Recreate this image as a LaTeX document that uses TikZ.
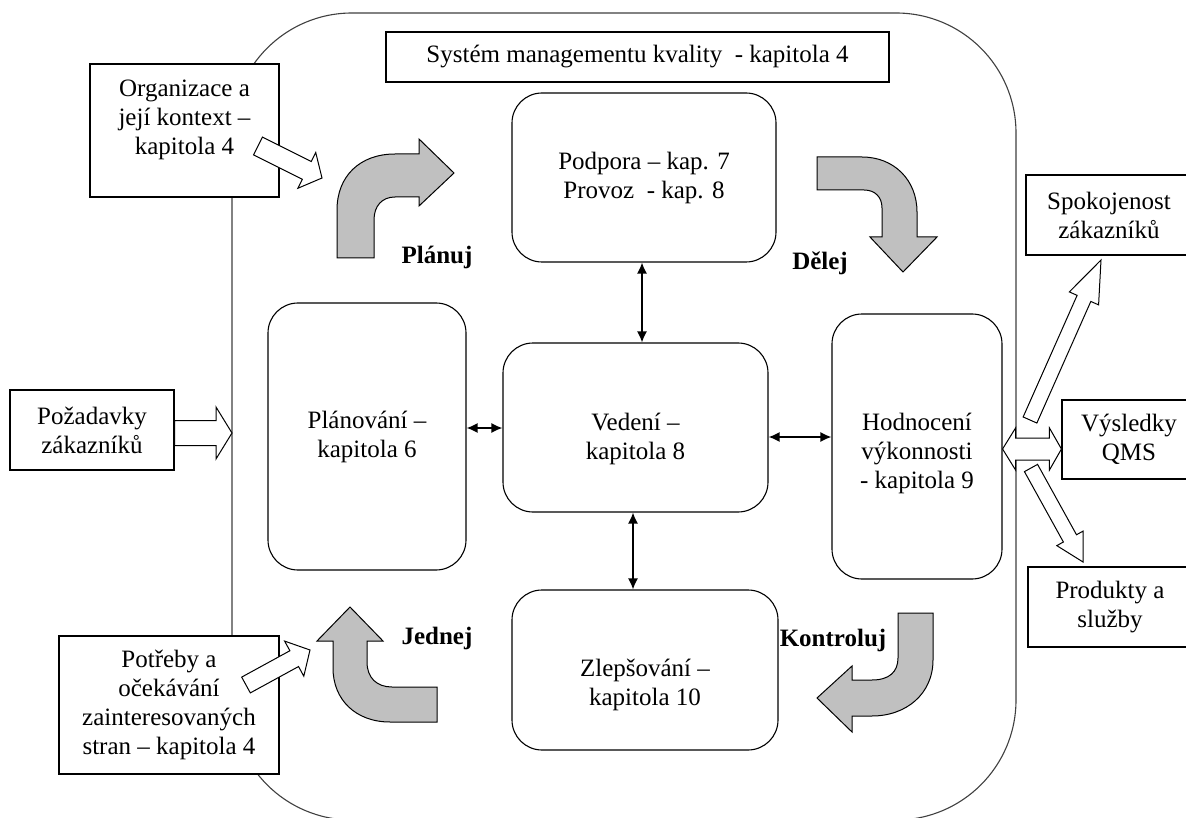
\documentclass[tikz,border=0pt]{standalone}
\usepackage{fontspec}
\setmainfont{Liberation Serif}
\usetikzlibrary{calc,arrows.meta}
\definecolor{arrowgray}{RGB}{192,192,192}
% hollow block arrow: #1 tail, #2 tip, #3 shaft half width, #4 head half width, #5 head length
\newcommand\hollowarrow[5]{%
  \draw[hollow] let \p1=($(#2)-(#1)$), \n1={atan2(\y1,\x1)}, \n2={veclen(\x1,\y1)} in
    [shift={(#1)},rotate=\n1] (0,#3) -- ({\n2-#5},#3) -- ({\n2-#5},#4) -- (\n2,0)
    -- ({\n2-#5},-#4) -- ({\n2-#5},-#3) -- (0,-#3) -- cycle;}
\begin{document}
\begin{tikzpicture}[x=1pt,y=-1pt,
  base/.style={font=\fontsize{25}{29}\selectfont},
  box/.style={base, draw, line width=1.1pt, fill=white, inner sep=0pt, align=center},
  rbox/.style={box, rounded corners=30pt},
  txt/.style={base, align=center, inner sep=0pt},
  lbl/.style={base, font=\fontsize{25}{29}\selectfont\bfseries, inner sep=0pt},
  frame/.style={draw=black!75, line width=1.1pt, rounded corners=120pt},
  hollow/.style={draw, line width=1pt, fill=white, line join=miter},
  bendarrow/.style={draw, line width=1pt, fill=arrowgray, line join=miter},
  link/.style={line width=1.5pt, {Latex[length=11pt,width=10pt]}-{Latex[length=11pt,width=10pt]}}
]
\clip (0,0) rectangle (1186,818);
\fill[white] (0,0) rectangle (1186,818);

% outer frame of the quality management system
\draw[frame] (232,13) rectangle (1016,820);

% title
\node[box, minimum width=503pt, minimum height=50pt] (sys) at (637.5,57)
  {Systém managementu kvality~ - kapitola 4};

% left input boxes
\node[box, minimum width=189pt, minimum height=133pt] (org) at (184.5,130.5) {};
\node[txt] (orgT) at (184.5,120) {Organizace a\\její kontext –\\kapitola 4};
\node[box, minimum width=164pt, minimum height=80pt] (poz) at (92,430)
  {Požadavky\\zákazníků};
\node[box, minimum width=220pt, minimum height=138pt] (pot) at (169,705)
  {Potřeby a\\očekávání\\zainteresovaných\\stran – kapitola 4};

% central rounded boxes
\node[rbox, minimum width=264pt, minimum height=169pt] (pod) at (644,177.5)
  {Podpora – kap. 7\\Provoz~ - kap. 8};
\node[rbox, minimum width=198pt, minimum height=267pt] (pla) at (367,436.5)
  {Plánování –\\kapitola 6};
\node[rbox, minimum width=265pt, minimum height=169pt] (ved) at (635.5,427.5) {};
\node[txt] (vedT) at (635.5,439) {Vedení –\\kapitola 8};
\node[rbox, minimum width=170pt, minimum height=265pt] (hod) at (917,446.5) {};
\node[txt] (hodT) at (917,453) {Hodnocení\\výkonnosti\\- kapitola 9};
\node[rbox, minimum width=266pt, minimum height=160pt] (zle) at (645,670) {};
\node[txt] (zleT) at (645,685) {Zlepšování –\\kapitola 10};

% right output boxes
\node[box, minimum width=166pt, minimum height=80pt] (spo) at (1109,215)
  {Spokojenost\\zákazníků};
\node[box, minimum width=134pt, minimum height=79pt] (vys) at (1129,439.5)
  {Výsledky\\QMS};
\node[box, minimum width=164pt, minimum height=80pt] (pro) at (1110,607)
  {Produkty a\\služby};

% PDCA labels
\node[lbl] (lPlan) at (437,257) {Plánuj};
\node[lbl] (lDo) at (820,263) {Dělej};
\node[lbl] (lAct) at (437,638) {Jednej};
\node[lbl] (lCheck) at (833,640) {Kontroluj};

% gray bent PDCA arrows
\draw[bendarrow] (337,258) -- (337,210) .. controls (337,176) and (360,154) .. (395,154)
  -- (419,154) -- (419,139) -- (454,173) -- (419,206) -- (419,197) -- (395,197)
  .. controls (382,197) and (374,206) .. (374,220) -- (374,258) -- cycle;
\draw[bendarrow] (817,157) -- (862,157) .. controls (894,157) and (917,180) .. (917,212)
  -- (917,237) -- (937,237) -- (903,272) -- (870,237) -- (882,237) -- (882,208)
  .. controls (882,197) and (875,190) .. (864,190) -- (817,190) -- cycle;
\draw[bendarrow] (898,613) -- (933,613) -- (933,660) .. controls (933,694) and (906,716) .. (872,716)
  -- (852,716) -- (852,732) -- (817,698) -- (852,666) -- (852,680) -- (872,680)
  .. controls (889,680) and (898,672) .. (898,658) -- cycle;
\draw[bendarrow] (437,687) -- (392,687) .. controls (377,687) and (367,678) .. (367,662)
  -- (367,641) -- (383,641) -- (350,607) -- (317,641) -- (333,641) -- (333,668)
  .. controls (333,700) and (356,722) .. (390,722) -- (437,722) -- cycle;

% links between the central boxes
\draw[link] ([xshift=-2pt]pod.south) -- ([xshift=-2pt]pod.south |- ved.north);
\draw[link] ([xshift=-2.5pt]ved.south) -- ([xshift=-2.5pt]ved.south |- zle.north);
\draw[link] ([yshift=8.5pt]pla.east) -- ([yshift=8.5pt]pla.east -| ved.west);
\draw[link] ([yshift=-9.5pt]ved.east) -- ([yshift=-9.5pt]ved.east -| hod.west);

% hollow input / output arrows
\coordinate (orgA) at (258,146);
\coordinate (planIn) at (322,178);
\hollowarrow{orgA}{planIn}{10}{20}{17}
\coordinate (pozA) at ([yshift=-3pt]poz.east);
\coordinate (frameIn) at (232,433);
\hollowarrow{pozA}{frameIn}{12.5}{26}{16}
\coordinate (potA) at (246,685);
\coordinate (actIn) at (310,650);
\hollowarrow{potA}{actIn}{9}{20}{18}
\coordinate (spoA) at (1030,420);
\coordinate (spoIn) at (1101,260);
\hollowarrow{spoA}{spoIn}{7.5}{16}{42}
\coordinate (proA) at (1031,468);
\coordinate (proIn) at (1083,562);
\hollowarrow{proA}{proIn}{7.5}{15}{27}

% double hollow arrow between evaluation and QMS results
\coordinate (dL) at ([yshift=-2.5pt]hod.east);
\coordinate (dR) at (dL -| vys.west);
\draw[hollow] (dL) -- ++(13,-21) -- ++(0,10) -- ($(dR)+(-12,-11)$) -- ++(0,-10) -- (dR)
  -- ++(-12,21) -- ++(0,-10) -- ($(dL)+(13,11)$) -- ++(0,10) -- cycle;
\end{tikzpicture}
\end{document}
